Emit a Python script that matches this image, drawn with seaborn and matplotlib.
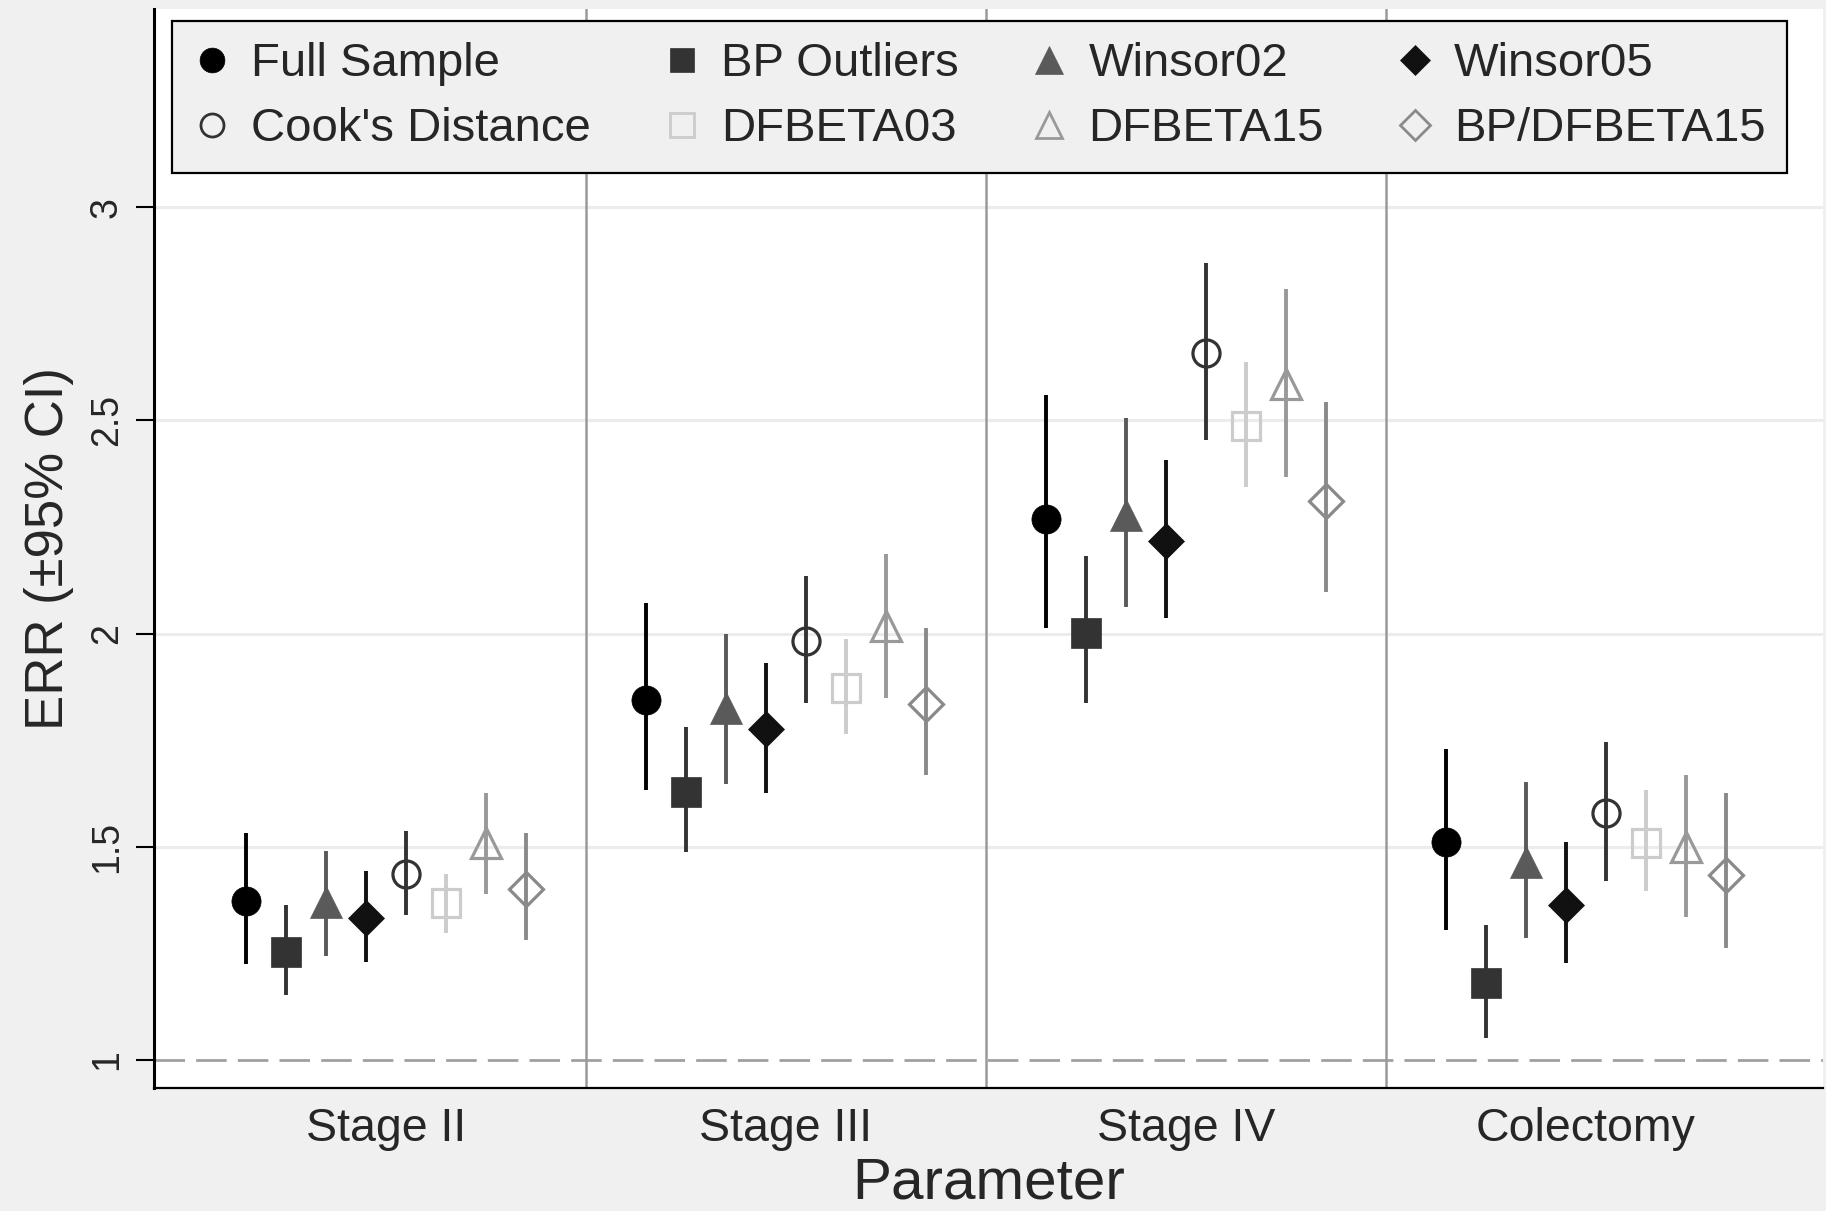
import numpy as np
import pandas as pd
import matplotlib
matplotlib.use("Agg")
import matplotlib.pyplot as plt
from matplotlib.lines import Line2D
import seaborn as sns

categories = ["Stage II", "Stage III", "Stage IV", "Colectomy"]
series = ["Full Sample", "BP Outliers", "Winsor02", "Winsor05",
          "Cook's Distance", "DFBETA03", "DFBETA15", "BP/DFBETA15"]

full_est = [1.372, 1.844, 2.269, 1.510]
full_lo = [1.225, 1.633, 2.012, 1.305]
full_hi = [1.531, 2.071, 2.560, 1.729]

bp_est = [1.254, 1.629, 2.002, 1.180]
bp_lo = [1.152, 1.487, 1.837, 1.052]
bp_hi = [1.364, 1.780, 2.182, 1.317]

w02_est = [1.371, 1.825, 2.279, 1.465]
w02_lo = [1.243, 1.647, 2.062, 1.286]
w02_hi = [1.490, 1.998, 2.506, 1.651]

w05_est = [1.332, 1.776, 2.217, 1.363]
w05_lo = [1.230, 1.626, 2.036, 1.227]
w05_hi = [1.444, 1.931, 2.407, 1.510]

cook_est = [1.437, 1.982, 2.657, 1.578]
cook_lo = [1.340, 1.838, 2.455, 1.420]
cook_hi = [1.537, 2.134, 2.868, 1.745]

df03_est = [1.367, 1.872, 2.487, 1.509]
df03_lo = [1.298, 1.765, 2.343, 1.395]
df03_hi = [1.437, 1.986, 2.636, 1.634]

df15_est = [1.508, 2.018, 2.586, 1.499]
df15_lo = [1.388, 1.848, 2.366, 1.336]
df15_hi = [1.626, 2.186, 2.809, 1.669]

bpdf_est = [1.400, 1.834, 2.312, 1.434]
bpdf_lo = [1.282, 1.667, 2.098, 1.262]
bpdf_hi = [1.531, 2.014, 2.544, 1.627]

y_ticks = [1, 1.5, 2, 2.5, 3]
y_tick_labels = ["1", "1.5", "2", "2.5", "3"]

# long table built from the arrays above
est_all = [full_est, bp_est, w02_est, w05_est, cook_est, df03_est, df15_est, bpdf_est]
lo_all = [full_lo, bp_lo, w02_lo, w05_lo, cook_lo, df03_lo, df15_lo, bpdf_lo]
hi_all = [full_hi, bp_hi, w02_hi, w05_hi, cook_hi, df03_hi, df15_hi, bpdf_hi]
rows = []
for s, e, l, h in zip(series, est_all, lo_all, hi_all):
    for c, ev, lv, hv in zip(categories, e, l, h):
        rows.append({"series": s, "parameter": c, "err": ev, "lo": lv, "hi": hv})
df = pd.DataFrame(rows)

# marker styles per series
styles = {
    "Full Sample": dict(marker="o", color="#000000", filled=True, ms=21),
    "BP Outliers": dict(marker="s", color="#333333", filled=True, ms=21),
    "Winsor02": dict(marker="^", color="#5a5a5a", filled=True, ms=23),
    "Winsor05": dict(marker="D", color="#111111", filled=True, ms=18.5),
    "Cook's Distance": dict(marker="o", color="#333333", filled=False, ms=19.5),
    "DFBETA03": dict(marker="s", color="#cccccc", filled=False, ms=20),
    "DFBETA15": dict(marker="^", color="#999999", filled=False, ms=22),
    "BP/DFBETA15": dict(marker="D", color="#8a8a8a", filled=False, ms=17.5),
}

sns.set_theme(style="white")
plt.rcParams["font.family"] = ["Liberation Sans", "DejaVu Sans"]

fig = plt.figure(figsize=(18.26, 12.11), dpi=100, facecolor="#f0f0f0")
ax = fig.add_axes([0.0843, 0.1016, 0.914, 0.891])
ax.set_facecolor("white")

for yv in [1.5, 2, 2.5, 3]:
    ax.axhline(yv, color="#ececec", lw=2.2, zorder=0)
ax.axhline(1, color="#a0a0a0", lw=2, dashes=(11, 4), zorder=1)
for xv in [0.5, 1.5, 2.5]:
    ax.axvline(xv, color="#9a9a9a", lw=1.8, zorder=1)

cat_idx = {c: i for i, c in enumerate(categories)}
for k, s in enumerate(series):
    st = styles[s]
    sub = df[df["series"] == s]
    x = sub["parameter"].map(cat_idx).to_numpy() + (k - 3.5) * 0.1
    y = sub["err"].to_numpy()
    yerr = np.vstack([y - sub["lo"].to_numpy(), sub["hi"].to_numpy() - y])
    ax.errorbar(x, y, yerr=yerr, fmt="none", ecolor=st["color"], elinewidth=2.8,
                capsize=0, zorder=3)
    ax.plot(x, y, linestyle="none", marker=st["marker"], markersize=st["ms"],
            markerfacecolor=st["color"] if st["filled"] else "none",
            markeredgecolor=st["color"], markeredgewidth=2.3 if not st["filled"] else 0.5,
            zorder=4)

ax.set_xlim(-0.58, 3.5925)
ax.set_ylim(0.934, 3.465)
ax.set_xticks(range(len(categories)))
ax.set_xticklabels(categories, fontsize=33.5)
ax.set_yticks(y_ticks)
ax.set_yticklabels(y_tick_labels, fontsize=27, rotation=90, va="center")
ax.tick_params(axis="x", length=0, pad=14)
ax.tick_params(axis="y", direction="out", length=13, width=1.5, color="black", pad=8, left=True)

ax.set_xlabel("Parameter", fontsize=42, labelpad=4)
ax.set_ylabel("ERR (\u00b195% CI)", fontsize=38)
ax.yaxis.set_label_coords(-0.048, 0.5)

for side in ["top", "right"]:
    ax.spines[side].set_visible(False)
ax.spines["left"].set_color("black")
ax.spines["left"].set_linewidth(2.2)
ax.spines["bottom"].set_color("black")
ax.spines["bottom"].set_linewidth(1.6)

# legend, filled column by column -> order row1/row2 pairs
order = ["Full Sample", "Cook's Distance", "BP Outliers", "DFBETA03",
         "Winsor02", "DFBETA15", "Winsor05", "BP/DFBETA15"]
handles = []
for s in order:
    st = styles[s]
    handles.append(Line2D([], [], linestyle="none", marker=st["marker"],
                          markersize=st["ms"] * 0.85,
                          markerfacecolor=st["color"] if st["filled"] else "none",
                          markeredgecolor=st["color"],
                          markeredgewidth=2 if not st["filled"] else 0.5))
leg = ax.legend(handles, order, ncol=4, loc="upper left",
                bbox_to_anchor=(0.0108, 0.9889), borderaxespad=0,
                fontsize=34, frameon=True, fancybox=False, framealpha=1,
                facecolor="#f0f0f0", edgecolor="black", handlelength=0.8,
                handletextpad=0.43, columnspacing=1.52, labelspacing=0.45,
                borderpad=0.45)
leg.get_frame().set_linewidth(1.6)
leg.set_zorder(10)

fig.savefig("out.png", dpi=100, facecolor=fig.get_facecolor())
